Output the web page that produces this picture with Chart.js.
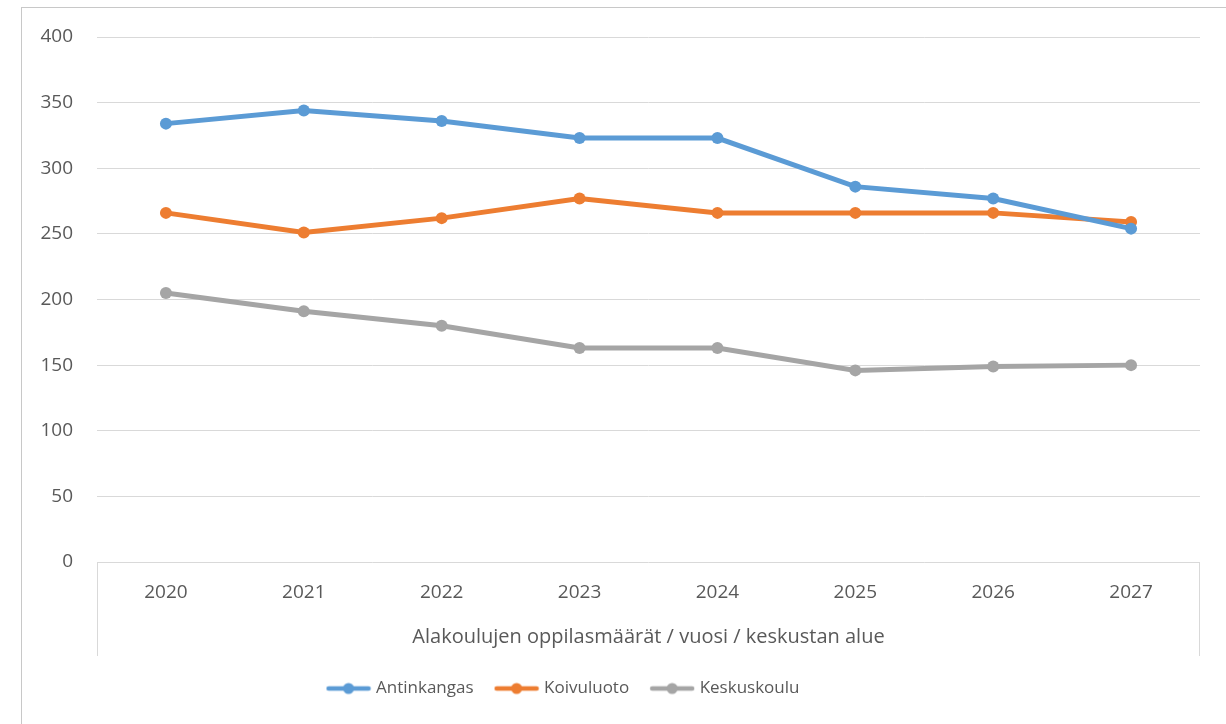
<!DOCTYPE html>
<html>
<head>
<meta charset="utf-8">
<script src="https://cdn.jsdelivr.net/npm/chart.js@4.4.1/dist/chart.umd.min.js"></script>
<style>
  html, body { margin: 0; padding: 0; background: #fff; }
  #frame { position: absolute; left: 21px; top: 7px; right: 0; bottom: 0; border-left: 1px solid #c8c8c8; border-top: 1px solid #c8c8c8; }
  #wrap { position: absolute; left: 0; top: 0; width: 1226px; height: 724px; }
</style>
</head>
<body>
<div id="frame"></div>
<div id="wrap"><canvas id="chart"></canvas></div>
<script>
// Vuodet ja oppilasmäärät (luettu kuvasta)
const YEARS = ["2020", "2021", "2022", "2023", "2024", "2025", "2026", "2027"];
const ANTINKANGAS = [334, 344, 336, 323, 323, 286, 277, 254];
const KOIVULUOTO = [266, 251, 262, 277, 266, 266, 266, 259];
const KESKUSKOULU = [205, 191, 180, 163, 163, 146, 149, 150];
const SERIES_NAMES = ["Antinkangas", "Koivuluoto", "Keskuskoulu"];
const COLORS = ["#5b9bd5", "#ed7d31", "#a5a5a5"];
const X_TITLE = "Alakoulujen oppilasmäärät / vuosi / keskustan alue";

const FONT = "'Open Sans', 'Noto Sans', sans-serif";
const TEXT_COLOR = "#595959";
const GRID_COLOR = "#d9d9d9";

// legendan symboli: viiva + pallo keskellä
function legendIcon(color) {
    const c = document.createElement('canvas');
    c.width = 46;
    c.height = 14;
    const g = c.getContext('2d');
    g.strokeStyle = color;
    g.lineWidth = 4.5;
    g.lineCap = 'round';
    g.beginPath();
    g.moveTo(3, 7);
    g.lineTo(43, 7);
    g.stroke();
    g.fillStyle = color;
    g.beginPath();
    g.arc(23, 7, 5.5, 0, Math.PI * 2);
    g.fill();
    return c;
}

// x-akselin laatikon pystyviivat (kuten Excelissä)
const axisBoxPlugin = {
    id: 'axisBox',
    afterDraw(chart) {
        const { ctx, chartArea } = chart;
        const xs = chart.scales.x;
        ctx.save();
        ctx.strokeStyle = GRID_COLOR;
        ctx.lineWidth = 1;
        ctx.beginPath();
        ctx.moveTo(chartArea.left + 0.5, chartArea.bottom);
        ctx.lineTo(chartArea.left + 0.5, xs.bottom);
        ctx.moveTo(chartArea.right - 0.5, chartArea.bottom);
        ctx.lineTo(chartArea.right - 0.5, xs.bottom);
        ctx.stroke();
        ctx.restore();
    }
};

// siirretään legendaa vähän vasemmalle
const legendShiftPlugin = {
    id: 'legendShift',
    afterLayout(chart) {
        if (chart.legend) chart.legend.right -= 92;
    }
};

const seriesData = [ANTINKANGAS, KOIVULUOTO, KESKUSKOULU];

new Chart(document.getElementById('chart'), {
    type: 'line',
    data: {
        labels: YEARS,
        datasets: seriesData.map((d, i) => ({
            label: SERIES_NAMES[i],
            data: d,
            borderColor: COLORS[i],
            backgroundColor: COLORS[i],
            borderWidth: 5,
            pointRadius: 6,
            pointHoverRadius: 6,
            pointBorderWidth: 0,
            pointStyle: 'circle',
            tension: 0,
            fill: false
        }))
    },
    options: {
        responsive: true,
        maintainAspectRatio: false,
        animation: false,
        layout: { padding: { left: 21, right: 26, top: 37, bottom: 17 } },
        plugins: {
            tooltip: { enabled: false },
            legend: {
                position: 'bottom',
                labels: {
                    usePointStyle: true,
                    pointStyleWidth: 38,
                    padding: 24,
                    color: TEXT_COLOR,
                    font: { family: FONT, size: 17 },
                    generateLabels(chart) {
                        const items = Chart.defaults.plugins.legend.labels.generateLabels(chart);
                        items.forEach((it, i) => { it.pointStyle = legendIcon(COLORS[i]); });
                        return items;
                    }
                }
            }
        },
        scales: {
            x: {
                offset: true,
                grid: { display: false },
                border: { display: false },
                ticks: { color: TEXT_COLOR, font: { family: FONT, size: 19 }, padding: 11, maxRotation: 0 },
                title: {
                    display: true,
                    text: X_TITLE,
                    color: TEXT_COLOR,
                    font: { family: FONT, size: 20 },
                    padding: { top: 0, bottom: 7 }
                },
                afterFit(scale) { scale.height = 94; }
            },
            y: {
                min: 0,
                max: 400,
                ticks: { stepSize: 50, color: TEXT_COLOR, font: { family: FONT, size: 19 }, padding: 24 },
                grid: { color: GRID_COLOR, lineWidth: 1, drawTicks: false },
                border: { display: false },
                afterFit(scale) { scale.width = 76; }
            }
        }
    },
    plugins: [axisBoxPlugin, legendShiftPlugin]
});
</script>
</body>
</html>
